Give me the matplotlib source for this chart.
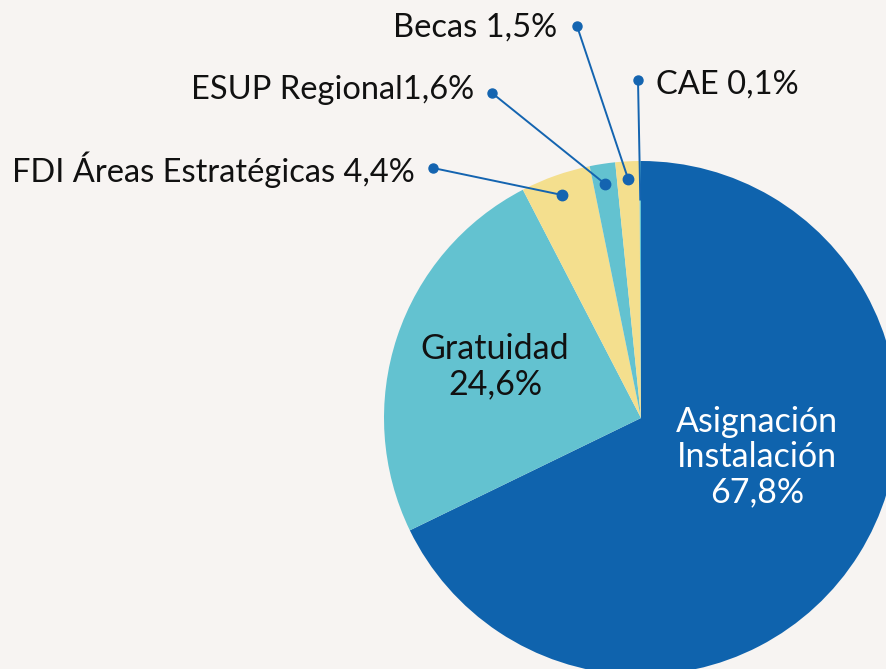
import numpy as np
import matplotlib

matplotlib.use("Agg")
import matplotlib.pyplot as plt

plt.rcParams["font.family"] = ["Lato", "DejaVu Sans"]

# Data (clockwise from 12 o'clock)
labels = ["Asignación\nInstalación", "Gratuidad", "FDI Áreas Estratégicas",
          "ESUP Regional", "Becas", "CAE"]
values = [67.8, 24.6, 4.4, 1.6, 1.5, 0.1]
value_text = ["67,8%", "24,6%", "4,4%", "1,6%", "1,5%", "0,1%"]
colors = ["#0f63ad", "#63c2d0", "#f4df8e", "#63c2d0", "#f4df8e", "#63c2d0"]

BG = "#f7f4f2"
LINE = "#1464b0"
W, H = 886, 669
CX, CY, R = 641, H - 418, 257
FS = 23.5

fig = plt.figure(figsize=(W / 100, H / 100), dpi=100, facecolor=BG)
ax = fig.add_axes([0, 0, 1, 1])
ax.set_facecolor(BG)

wedges, _ = ax.pie(values, colors=colors, startangle=90, counterclock=False,
                   center=(CX, CY), radius=R, frame=True,
                   wedgeprops=dict(linewidth=0))
ax.set_xlim(0, W)
ax.set_ylim(0, H)
ax.set_aspect("equal")
ax.axis("off")

# inside labels
ax.text(495, H - 367, f"Gratuidad\n{value_text[1]}", ha="center", va="center",
        fontsize=24.5, color="#111111", linespacing=1.12)
ax.text(757, H - 457, f"Asignación\nInstalación\n{value_text[0]}", ha="center",
        va="center", fontsize=24.5, color="white", linespacing=1.12)

# callouts: outer dot (px from top), text anchor, alignment, text, inner radius
callouts = {
    2: ((433, 168), (415, 170), "right", "FDI Áreas Estratégicas 4,4%", 0.92),
    3: ((492, 93), (474, 90), "right", "ESUP Regional1,6%", 0.92),
    4: ((577, 26), (557, 28), "right", "Becas 1,5%", 0.93),
    5: ((638, 80), (656, 85), "left", "CAE 0,1%", 0.85),
}
for i, (dot, tpos, ha, txt, rf) in callouts.items():
    w = wedges[i]
    mid = np.deg2rad((w.theta1 + w.theta2) / 2)
    ix, iy = CX + rf * R * np.cos(mid), CY + rf * R * np.sin(mid)
    ox, oy = dot[0], H - dot[1]
    ax.plot([ox, ix], [oy, iy], color=LINE, lw=1.4, zorder=5)
    ax.plot([ox], [oy], "o", color=LINE, ms=6.5, zorder=6)
    if i != 5:
        ax.plot([ix], [iy], "o", color=LINE, ms=7.5, zorder=6)
    ax.text(tpos[0], H - tpos[1], txt, ha=ha, va="center", fontsize=FS,
            color="#111111")

fig.savefig("out.png", dpi=100, facecolor=BG)
